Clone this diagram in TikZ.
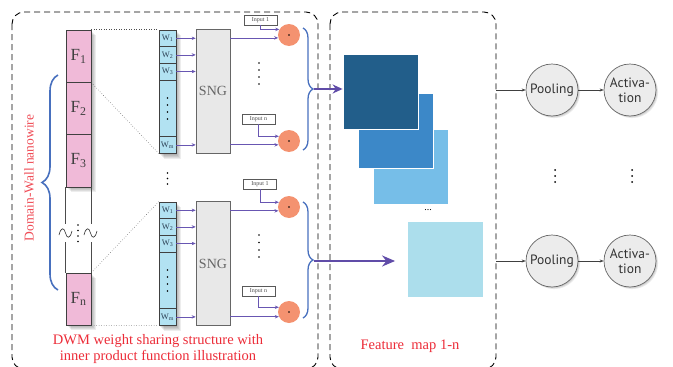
\documentclass[tikz,border=0pt]{standalone}
\usepackage{fontspec}
\setmainfont{Liberation Serif}
\newfontfamily\labelsans{PT Sans}
\usetikzlibrary{arrows.meta,decorations.pathreplacing,calc}

\definecolor{cellpink}{RGB}{240,186,216}
\definecolor{cellblue}{RGB}{178,226,242}
\definecolor{sngfill}{RGB}{232,232,232}
\definecolor{flowpurple}{RGB}{104,86,178}
\definecolor{bigpurple}{RGB}{96,76,168}
\definecolor{bracecol}{RGB}{72,112,190}
\definecolor{dotorange}{RGB}{244,146,112}
\definecolor{captionred}{RGB}{236,44,56}
\definecolor{fmA}{RGB}{34,94,138}
\definecolor{fmB}{RGB}{60,136,200}
\definecolor{fmC}{RGB}{118,190,232}
\definecolor{fmD}{RGB}{172,222,236}
\definecolor{nodegray}{RGB}{236,236,236}
\definecolor{wtext}{RGB}{45,65,85}

\pgfdeclarelayer{background}
\pgfsetlayers{background,main}

\tikzset{
  framedash/.style={draw=black, line width=0.9pt, dash pattern=on 6pt off 4pt, rounded corners=12pt},
  fcell/.style={draw=black!75, fill=cellpink, line width=0.6pt, minimum width=25pt, minimum height=52.3pt,
    inner sep=0pt, font=\fontsize{17}{17}\selectfont, text=black!75},
  wcell/.style={draw=black!75, fill=cellblue, line width=0.6pt, minimum width=17pt, minimum height=16.6pt,
    inner sep=0pt, font=\fontsize{8.5}{9}\selectfont, text=wtext},
  wgap/.style={draw=black!75, fill=cellblue, line width=0.6pt, minimum width=17pt, minimum height=56.6pt, inner sep=0pt},
  sngbox/.style={draw=black!60, fill=sngfill, line width=0.6pt, minimum width=34pt, minimum height=124pt,
    inner sep=0pt, font=\fontsize{14}{14}\selectfont, text=black!60},
  inbox/.style={draw=black!65, fill=white, line width=0.5pt, minimum width=33pt, minimum height=10pt,
    inner sep=0pt, font=\fontsize{6}{6}\selectfont, text=black!70},
  mult/.style={circle, fill=dotorange, minimum size=22pt, inner sep=0pt},
  flow/.style={draw=flowpurple, line width=0.7pt, -{Stealth[length=4pt,width=3.4pt]}},
  bigflow/.style={draw=bigpurple, line width=2.6pt, -{Stealth[length=10pt,width=9pt]}},
  dotlink/.style={draw=black!70, line width=0.5pt, dotted},
  curly/.style={draw=bracecol, line width=1.3pt, decorate},
  fmap/.style={draw=white, line width=0.8pt, minimum size=75pt, inner sep=0pt},
  caption/.style={text=captionred, font=\fontsize{14.5}{16}\selectfont, align=center},
  proc/.style={circle, draw=black!60, fill=nodegray, line width=0.7pt, minimum size=52pt, inner sep=0pt,
    font=\labelsans\fontsize{13.5}{15}\selectfont, text=black!80, align=center},
  thinflow/.style={draw=black!75, line width=0.6pt, -{Stealth[length=4pt,width=3pt]}},
}

\begin{document}
\begin{tikzpicture}[x=1pt,y=-1pt]
\useasboundingbox (0,0) rectangle (673,367);

% dashed frames
\draw[framedash] (12,12) rectangle (318,369);
\draw[framedash] (330,12) rectangle (496,369);

% domain-wall nanowire column
\node[fcell] (f1) at (78.5,56.15) {F\textsubscript{1}};
\node[fcell] (f2) at (78.5,108.45) {F\textsubscript{2}};
\node[fcell] (f3) at (78.5,160.75) {F\textsubscript{3}};
\node[fcell, minimum height=52pt] (fn) at (78.5,299) {F\textsubscript{n}};
\draw[black!70, line width=0.6pt] (f3.south west) -- ++(0,37) (f3.south east) -- ++(0,37)
  (fn.north west) -- ++(0,-31) (fn.north east) -- ++(0,-31);
% break marks
\draw[black!80, line width=0.6pt] (59,235) .. controls (61,227) and (64,227) .. (65.5,233)
  .. controls (67,239) and (70,239) .. (72,231);
\draw[black!80, line width=0.6pt] (84,235) .. controls (86,227) and (89,227) .. (90.5,233)
  .. controls (92,239) and (95,239) .. (97,231);
\foreach \yy in {225,230.5,236,241.5} \fill[black] (78,\yy) circle (0.9);

% left brace and its label
\draw[curly, line width=1.6pt, decoration={brace, amplitude=16pt}] (58,290) -- (58,75);
\node[caption, text=captionred!85, font=\fontsize{13.5}{14}\selectfont, rotate=90] (dwlabel) at (29,178) {Domain-Wall nanowire};

% upper weight column
\node[wcell] (wa1) at (167.5,38.3) {W\textsubscript{1}};
\node[wcell] (wa2) at (167.5,54.9) {W\textsubscript{2}};
\node[wcell] (wa3) at (167.5,71.5) {W\textsubscript{3}};
\node[wgap] (wad) at (167.5,108.3) {};
\node[wcell] (wam) at (167.5,144.9) {W\textsubscript{m}};
\foreach \yy in {98,105,112,119} \fill[black] (167.5,\yy) circle (0.8);

% lower weight column
\node[wcell] (wb1) at (167.5,210.3) {W\textsubscript{1}};
\node[wcell] (wb2) at (167.5,226.9) {W\textsubscript{2}};
\node[wcell] (wb3) at (167.5,243.5) {W\textsubscript{3}};
\node[wgap] (wbd) at (167.5,280.3) {};
\node[wcell] (wbm) at (167.5,316.9) {W\textsubscript{m}};
\foreach \yy in {270,277,284,291} \fill[black] (167.5,\yy) circle (0.8);

\foreach \yy in {173,178.5,184} \fill[black] (167.5,\yy) circle (0.9);

% dotted zoom lines
\draw[dotlink] (f1.north east) -- (wa1.north west);
\draw[dotlink] (f1.south east) -- (wam.south west);
\draw[dotlink] (fn.north east) -- (wb1.north west);
\draw[dotlink] (fn.south east) -- (wbm.south west);

% stochastic number generators
\node[sngbox] (snga) at (213,91) {SNG};
\node[sngbox] (sngb) at (213,263.5) {SNG};

\foreach \w in {wa1,wa2,wa3,wam} \draw[flow] (\w.east) -- (\w.east -| snga.west);
\foreach \w in {wb1,wb2,wb3,wbm} \draw[flow] (\w.east) -- (\w.east -| sngb.west);

% inputs and multipliers
\node[inbox] (ina1) at (260.5,20) {Input 1};
\node[inbox] (inan) at (258.5,119) {Input n};
\node[inbox] (inb1) at (260,184) {Input 1};
\node[inbox] (inbn) at (258.5,291) {Input n};
\node[mult] (ma1) at (289,35) {};
\node[mult] (man) at (289,141) {};
\node[mult] (mb1) at (289,207) {};
\node[mult] (mbn) at (289,312) {};
\foreach \m in {ma1,man,mb1,mbn} {
  \fill[black] (\m.center) circle (0.9);
}
\draw[flow] (ina1.south) |- (ma1.150);
\draw[flow] (inan.south) |- (man.155);
\draw[flow] (inb1.south) |- (mb1.155);
\draw[flow] (inbn.south) |- (mbn.155);
\draw[flow] (snga.east |- ma1.195) -- (ma1.195);
\draw[flow] (snga.east |- man.200) -- (man.200);
\draw[flow] (sngb.east |- mb1.200) -- (mb1.200);
\draw[flow] (sngb.east |- mbn.205) -- (mbn.205);
\foreach \yy in {63,70,77,84} \fill[black] (259,\yy) circle (0.8);
\foreach \yy in {235,242.5,250,257} \fill[black] (259,\yy) circle (0.8);

% right braces
\draw[curly, decoration={brace, amplitude=10pt}] (303,28) -- (303,150);
\draw[curly, decoration={brace, amplitude=10pt}] (303,202) -- (303,318);

% feature maps
\node[fmap, fill=fmC] (fm3) at (410.5,167) {};
\node[fmap, fill=fmB] (fm2) at (396,130.5) {};
\node[fmap, fill=fmA] (fm1) at (380.5,91.5) {};
\node[fmap, fill=fmD, draw=none] (fm4) at (445,259.5) {};
\node[font=\fontsize{10}{10}\selectfont, inner sep=0pt] (fmdots) at (428,210) {...};

\coordinate (ta) at (314,89);
\coordinate (tb) at (314,261);
\draw[bigflow] (ta) -- (ta -| fm1.west);
\draw[bigflow, -{Stealth[length=13pt,width=11pt]}, shorten >=12pt] (tb) -- (tb -| fm4.west);

% captions
\node[caption] (capL) at (158,349) {DWM weight sharing structure with\\inner product function illustration};
\node[caption] (capR) at (410,346) {Feature~~map 1-n};

% pooling and activation
\node[proc] (poola) at (552,90) {Pooling};
\node[proc] (acta) at (630,90) {Activa-\\tion};
\node[proc] (poolb) at (552,261) {Pooling};
\node[proc] (actb) at (630,261) {Activa-\\tion};
\coordinate (oa) at (496,90);
\coordinate (ob) at (496,261);
\draw[thinflow] (oa) -- (poola);
\draw[thinflow] (poola) -- (acta);
\draw[thinflow] (ob) -- (poolb);
\draw[thinflow] (poolb) -- (actb);
\foreach \xx in {555,632} \foreach \yy in {170,176,182} \fill[black] (\xx,\yy) circle (1);

% soft shadows
\begin{pgfonlayer}{background}
\foreach \d in {1,...,5} {
  \fill[black, opacity=0.07] ($(f1.north west)+(\d,\d)$) rectangle ($(f3.south east)+(\d,\d)$);
  \fill[black, opacity=0.07] ($(fn.north west)+(\d,\d)$) rectangle ($(fn.south east)+(\d,\d)$);
  \fill[black, opacity=0.07] ($(wa1.north west)+(\d,\d)$) rectangle ($(wam.south east)+(\d,\d)$);
  \fill[black, opacity=0.07] ($(wb1.north west)+(\d,\d)$) rectangle ($(wbm.south east)+(\d,\d)$);
}
\foreach \d in {1,...,3} {
  \foreach \p in {poola,acta,poolb,actb}
    \fill[black, opacity=0.08] ($(\p.center)+(0.7*\d,0.7*\d)$) circle (26);
}
\end{pgfonlayer}
\end{tikzpicture}
\end{document}
